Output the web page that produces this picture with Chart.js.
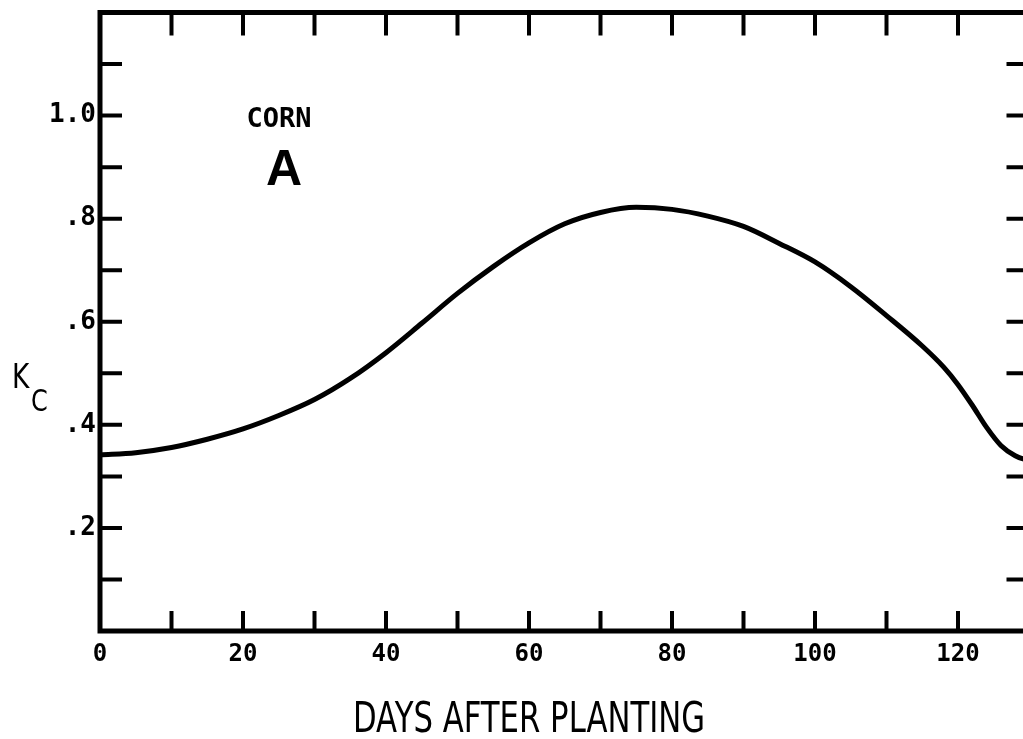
<!DOCTYPE html>
<html>
<head>
<meta charset="utf-8">
<script src="https://cdn.jsdelivr.net/npm/chart.js@4"></script>
<style>
  html, body { margin: 0; padding: 0; background: #fff; overflow: hidden; }
  #wrap { position: relative; width: 1040px; height: 739px; }
</style>
</head>
<body>
<div id="wrap"><canvas id="kcChart" width="1040" height="739"></canvas></div>
<script>
// Kc curve for corn
const days = [0, 5, 10, 15, 20, 25, 30, 35, 40, 45, 50, 55, 60, 65, 70, 75, 80, 85, 90, 95, 100, 105, 110, 115, 118, 120, 122, 124, 126, 128, 130];
const kc = [0.342, 0.346, 0.356, 0.372, 0.392, 0.418, 0.449, 0.490, 0.540, 0.597, 0.655, 0.707, 0.753, 0.790, 0.812, 0.822, 0.818, 0.805, 0.785, 0.752, 0.716, 0.668, 0.612, 0.553, 0.512, 0.478, 0.438, 0.395, 0.360, 0.340, 0.330];

const xLabelDays = [0, 20, 40, 60, 80, 100, 120];
const yLabelValues = [0.2, 0.4, 0.6, 0.8, 1.0];
const yLabelTexts = ['.2', '.4', '.6', '.8', '1.0'];
const xTickDays = [10, 20, 30, 40, 50, 60, 70, 80, 90, 100, 110, 120];
const yTickValues = [0.1, 0.2, 0.3, 0.4, 0.5, 0.6, 0.7, 0.8, 0.9, 1.0, 1.1];

const cropName = 'CORN';
const panelLetter = 'A';
const yTitle = ['K', 'C'];
const xTitle = 'DAYS AFTER PLANTING';

function drawNarrow(ctx, text, x, y, font, scaleX) {
  ctx.save();
  ctx.font = font;
  ctx.translate(x, y);
  ctx.scale(scaleX, 1);
  ctx.fillText(text, 0, 0);
  ctx.restore();
}

function noPad(s) {
  s.paddingTop = 0;
  s.paddingBottom = 0;
  s.paddingLeft = 0;
  s.paddingRight = 0;
}

const framePlugin = {
  id: 'frame',
  afterDraw(chart) {
    const ctx = chart.ctx;
    const a = chart.chartArea;
    const xs = chart.scales.x;
    const ys = chart.scales.y;
    ctx.save();
    ctx.strokeStyle = '#000';
    ctx.fillStyle = '#000';

    // box
    ctx.lineWidth = 5;
    ctx.strokeRect(a.left, a.top, a.right - a.left, a.bottom - a.top);

    // inward tick marks
    ctx.lineWidth = 4;
    ctx.beginPath();
    xTickDays.forEach(d => {
      const x = xs.getPixelForValue(d);
      ctx.moveTo(x, a.top); ctx.lineTo(x, a.top + 23);
      ctx.moveTo(x, a.bottom); ctx.lineTo(x, a.bottom - 20);
    });
    yTickValues.forEach(v => {
      const y = ys.getPixelForValue(v);
      ctx.moveTo(a.left, y); ctx.lineTo(a.left + 22, y);
      ctx.moveTo(a.right, y); ctx.lineTo(a.right - 23, y);
    });
    ctx.stroke();

    // annotations
    ctx.textBaseline = 'alphabetic';
    ctx.textAlign = 'center';
    ctx.font = 'bold 27px "DejaVu Sans Mono"';
    ctx.fillText(cropName, 279, 127);
    ctx.font = 'bold 50px "Liberation Sans"';
    ctx.fillText(panelLetter, 284, 185);

    ctx.textAlign = 'left';
    drawNarrow(ctx, yTitle[0], 12, 388, '33px "DejaVu Sans"', 0.8);
    drawNarrow(ctx, yTitle[1], 31, 411, '30px "DejaVu Sans"', 0.8);

    ctx.font = '42px "DejaVu Sans"';
    const w = ctx.measureText(xTitle).width;
    drawNarrow(ctx, xTitle, 353, 732, '42px "DejaVu Sans"', 352 / w);
    ctx.restore();
  }
};

new Chart(document.getElementById('kcChart').getContext('2d'), {
  type: 'line',
  data: {
    datasets: [{
      data: days.map((d, i) => ({ x: d, y: kc[i] })),
      borderColor: '#000',
      borderWidth: 5,
      pointRadius: 0,
      cubicInterpolationMode: 'monotone',
      fill: false
    }]
  },
  options: {
    responsive: false,
    animation: false,
    devicePixelRatio: 1,
    layout: { padding: { top: 12.5, right: 10.5, left: 0, bottom: 0 } },
    plugins: { legend: { display: false }, tooltip: { enabled: false } },
    scales: {
      x: {
        type: 'linear',
        min: 0,
        max: 130,
        afterFit: s => { s.height = 108; noPad(s); },
        afterBuildTicks: s => { s.ticks = xLabelDays.map(v => ({ value: v })); },
        grid: { display: false, drawTicks: false },
        border: { display: false },
        ticks: {
          autoSkip: false,
          maxRotation: 0,
          padding: 9,
          color: '#000',
          font: { family: '"DejaVu Sans Mono"', size: 24, weight: 'bold' },
          callback: v => String(v)
        }
      },
      y: {
        type: 'linear',
        min: 0,
        max: 1.2,
        afterFit: s => { s.width = 100; noPad(s); },
        afterBuildTicks: s => { s.ticks = yLabelValues.map(v => ({ value: v })); },
        grid: { display: false, drawTicks: false },
        border: { display: false },
        ticks: {
          padding: 4,
          color: '#000',
          font: { family: '"DejaVu Sans Mono"', size: 26, weight: 'bold' },
          callback: v => yLabelTexts[yLabelValues.findIndex(t => Math.abs(t - v) < 1e-6)]
        }
      }
    }
  },
  plugins: [framePlugin]
});
</script>
</body>
</html>
